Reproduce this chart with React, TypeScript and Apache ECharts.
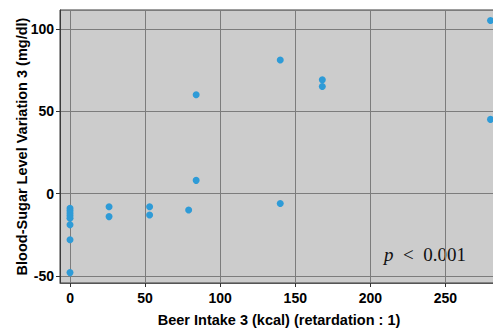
import React, { useEffect, useRef } from "react";
import * as echarts from "echarts";

const beerIntake = [0, 0, 0, 0, 0, 0, 0, 0, 26, 26, 53, 53, 79, 84, 84, 140, 140, 168, 168, 280, 280];
const sugarVariation = [-9, -10.5, -12, -13.5, -15, -19, -28, -48, -8, -14, -8, -13, -10, 8, 60, 81, -6, 69, 65, 105, 45];
const xTitle = "Beer Intake 3 (kcal) (retardation : 1)";
const yTitle = "Blood-Sugar Level Variation 3 (mg/dl)";

export default function App() {
  const ref = useRef<HTMLDivElement>(null);
  useEffect(() => {
    if (!ref.current) return;
    const chart = echarts.init(ref.current, null, { renderer: "svg" });
    const points = beerIntake.map((x, i) => [x, sugarVariation[i]]);
    const labelStyle = {
      color: "#000",
      fontWeight: "bold" as const,
      fontSize: 14,
      fontFamily: "Liberation Sans, Arial, sans-serif",
    };
    const gridLine = { show: true, lineStyle: { color: "#7c7c7c", width: 1 } };
    chart.setOption({
      animation: false,
      backgroundColor: "#ffffff",
      grid: {
        left: 60,
        top: 10,
        right: -5,
        bottom: 48,
        show: true,
        backgroundColor: "#cccccc",
        borderColor: "#3a3a3a",
        borderWidth: 1,
        containLabel: false,
        outerBoundsMode: "none",
      },
      xAxis: {
        type: "value",
        min: -6.67,
        max: 285,
        splitNumber: 5,
        name: xTitle,
        nameLocation: "middle",
        nameGap: 29,
        nameMoveOverlap: false,
        nameTextStyle: { ...labelStyle, fontSize: 14.5 },
        axisLine: { show: true, onZero: false, lineStyle: { color: "#555" } },
        axisTick: { show: true, length: 4, lineStyle: { color: "#333" } },
        axisLabel: { ...labelStyle, margin: 8, showMinLabel: false, showMaxLabel: false },
        splitLine: gridLine,
      },
      yAxis: {
        type: "value",
        min: -54.3,
        max: 111.4,
        splitNumber: 3,
        name: yTitle,
        nameLocation: "middle",
        nameGap: 31,
        nameMoveOverlap: false,
        nameTextStyle: { ...labelStyle, fontSize: 14.5 },
        axisLine: { show: true, onZero: false, lineStyle: { color: "#3a3a3a" } },
        axisTick: { show: true, length: 4, lineStyle: { color: "#333" } },
        axisLabel: { ...labelStyle, margin: 6, showMinLabel: false, showMaxLabel: false },
        splitLine: gridLine,
      },
      series: [
        {
          type: "scatter",
          data: points,
          symbol: "circle",
          symbolSize: 7,
          itemStyle: { color: "#2e9bd7", opacity: 1 },
        },
      ],
      graphic: [
        {
          type: "text",
          left: 384,
          top: 245,
          style: {
            text: "{p|p}{t|  <  0.001}",
            rich: {
              p: { fontFamily: "Liberation Serif, Times New Roman, serif", fontStyle: "italic", fontSize: 19, fill: "#111" },
              t: { fontFamily: "Liberation Serif, Times New Roman, serif", fontSize: 19, fill: "#111" },
            },
          },
        },
      ],
    });
    return () => chart.dispose();
  }, []);
  return (
    <div
      ref={ref}
      style={{ position: "fixed", left: 0, top: 0, width: 493, height: 331, background: "#fff" }}
    />
  );
}
